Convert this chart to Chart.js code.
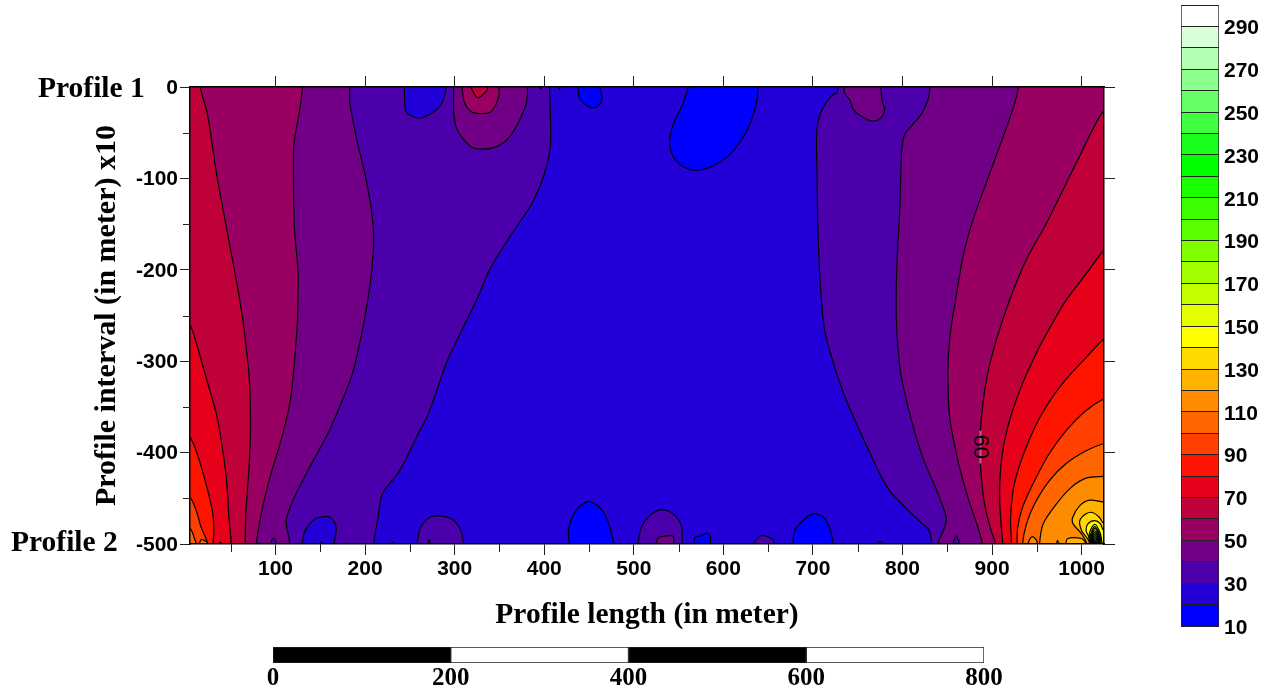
<!DOCTYPE html>
<html>
<head>
<meta charset="utf-8">
<title>Profile contour</title>
<script src="https://cdn.jsdelivr.net/npm/chart.js@4/dist/chart.umd.min.js"></script>
<style>
    html, body { margin: 0; padding: 0; background: #fff; }
    canvas { position: absolute; left: 0; top: 0; }
</style>
</head>
<body>
<canvas id="contourChart" width="1274" height="694"></canvas>
<canvas id="colorBar" width="1274" height="694"></canvas>
<canvas id="scaleBar" width="1274" height="694"></canvas>
<script>
// axis ticks
const xTicks = [100, 200, 300, 400, 500, 600, 700, 800, 900, 1000];
const xMinorTicks = [50, 150, 250, 350, 450, 550, 650, 750, 850, 950];
const yTicks = [0, -100, -200, -300, -400, -500];
const yMinorTicks = [-50, -150, -250, -350, -450];
const barTicks = [10, 30, 50, 70, 90, 110, 130, 150, 170, 190, 210, 230, 250, 270, 290];
const scaleTicks = [0, 200, 400, 600, 800];
const scaleValues = [[0, 200], [200, 400], [400, 600], [600, 800]];
const scaleColors = ['#000000', '#ffffff', '#000000', '#ffffff'];

// colour bar bands, bottom one starts at 10
const bandStarts = [10, 20, 30, 40, 50, 60, 70, 80, 90, 100, 110, 120, 130, 140, 150, 160, 170, 180, 190, 200, 210, 220, 230, 240, 250, 260, 270, 280, 290];
const bandEdges = [10, 20, 30, 40, 50, 60, 70, 80, 90, 100, 110, 120, 130, 140, 150, 160, 170, 180, 190, 200, 210, 220, 230, 240, 250, 260, 270, 280, 290, 300];
const bandColors = ['#0000ff', '#2400d8', '#4b00ab', '#720087', '#990061', '#bf0039', '#e6001a', '#ff1400', '#ff4000', '#ff6600', '#ff8c00', '#ffb300', '#ffd900', '#ffff00', '#e6ff00', '#c4ff00', '#a3ff00', '#80ff00', '#5cff00', '#3bff00', '#19ff00', '#00ff00', '#1aff1a', '#40ff40', '#66ff66', '#8cff8c', '#b3ffb3', '#d9ffd9', '#ffffff'];

// contour lines, [length, interval]
const baseArea = [[-20, 20], [1050, 20], [1050, -520], [-20, -520], [-20, 20]];

const low10Top = [[437.5, 0], [439.5, -12], [450.5, -22], [458, -22], [464.5, -14], [462, 0]];
const low10Big = [[561, 0], [555, -18], [544, -41], [540, -60], [544, -76], [555, -87], [569, -91], [587, -87], [607, -74], [624, -52], [633, -32], [637.5, -14], [639, 0]];
const low10A = [[428.3, -500], [427, -485.5], [434, -465], [448.7, -453.6], [462, -460], [471, -474.5], [477.8, -500]];
const low10B = [[567.5, -500], [568, -492.7], [575.4, -491], [581, -488], [585.4, -491], [585.4, -500]];
const low10C = [[677.6, -500], [679.5, -485.5], [688.5, -474.5], [699.7, -467], [711, -470], [718.7, -482.5], [723, -500]];

const c30Left = [[-20, 20], [406, 20], [406, 0], [407, -61], [400.5, -94], [387, -126], [361.5, -164], [339, -200], [324.5, -233], [308, -266], [292, -299], [280, -332], [270, -359], [261, -376], [238.5, -420], [219.5, -445], [214, -474], [209.5, -500], [209.5, -520], [-20, -520], [-20, 20]];
const c30Right = [[728, 20], [728, 0], [727, -6], [720.5, -10], [711, -23], [705.5, -39], [704, -58], [704.5, -91], [705.5, -153], [707.5, -204], [709.5, -233], [713, -266], [722, -299], [733, -332], [747, -365], [761, -395], [774.5, -423], [785.5, -441.5], [804, -461], [822.5, -478], [830, -485.5], [832.5, -500], [832.5, -520], [1050, -520], [1050, 20], [728, 20]];
const c30BumpA = [[257.8, -500], [261.5, -483], [270, -472], [281, -469], [298, -473.5], [307, -485.5], [310, -500]];
const c30BumpB = [[504.6, -500], [508.4, -482], [517.7, -469], [530.6, -462.4], [543.6, -467], [553, -480], [554, -500]];
const c30BumpC = [[633, -500], [642, -491], [655, -494.7], [657, -500]];
const c30DotsA = [[395, 0], [396, -3], [397, 0]];
const c30DotsB = [[416, 0], [417, -3], [418, 0]];
const c30DotsC = [[230, -500], [231, -498], [232, -500]];
const c30DotsD = [[150, -500], [151, -498], [152, -500]];
const c30DotsE = [[773, -500], [775, -497], [778, -500]];
const c30DotsF = [[95, -500], [96, -495], [98, -494], [100, -496], [100.7, -500]];
const c30DotsG = [[856, -500], [860, -491], [864, -500]];

const hole20Top = [[244, 0], [244, -10.6], [246.5, -28], [261, -34], [275.5, -28], [286, -17], [291, 0]];
const hole20Bottom = [[129.8, -500], [132.4, -487], [143.6, -473], [158, -470], [166, -476], [167.8, -485], [165, -500]];
const hole20Dot = [[270, -500], [271.5, -495], [273, -500]];

const c40Left = [[-20, 20], [183, 20], [183, 0], [183, -17], [190, -54.5], [199.5, -94], [207, -134.5], [209.5, -167], [207, -204], [203, -233], [197, -266], [186, -313], [171.5, -350], [156.5, -383], [138, -416], [121, -449], [112, -474], [116, -500], [116, -520], [-20, -520], [-20, 20]];
const c40Right = [[830.5, 20], [830.5, 0], [828.5, -14], [821, -30], [811.5, -41], [802, -53], [799, -72], [797, -134], [794, -189], [793, -233], [793.8, -269], [798, -313], [808, -357], [822.5, -405], [838, -441], [849, -471], [847, -482], [839.5, -500], [839.5, -520], [1050, -520], [1050, 20], [830.5, 20]];
const c40Top = [[299, 0], [299, -28], [303, -47], [319, -66], [331, -68], [344.5, -66], [358, -58], [370, -41], [380, -17], [381.5, 0]];
const c40TopRight = [[734.6, 0], [735.4, -6.5], [741, -14], [745.5, -25], [754, -32], [765, -37], [774.5, -35], [780, -25], [777.5, -16], [775.6, 0]];
const c40Bump = [[525, -500], [527, -493.5], [532.5, -491.7], [543.6, -491.3], [544.8, -500]];

const c50Left = [[-20, 20], [130, 20], [130, 0], [127, -25], [121, -58], [120, -80], [121, -153], [125, -200], [125, -233], [124.5, -255], [121, -302], [116, -346], [106, -387], [95, -423], [85.5, -460], [78.5, -500], [78.5, -520], [-20, -520], [-20, 20]];
const c50Right = [[929.5, 20], [929.5, 0], [923, -25], [908.5, -65], [893.5, -105], [878.5, -146], [867.5, -186], [859.3, -233], [853.5, -269], [850.8, -306], [852.7, -361], [862, -409], [873, -449], [884.3, -482], [889, -500], [889, -520], [1050, -520], [1050, 20], [929.5, 20]];
const c50Top = [[308, 0], [311, -17], [318.5, -27], [329.5, -29], [339, -28], [346, -19.5], [349.5, -8.5], [349.5, 0]];

const c60Left = [[-20, 20], [16, 20], [16, 0], [24, -30], [34, -94], [45, -153], [54, -200], [60, -233], [65, -266], [71, -324], [72, -379], [70, -423], [67, -464], [66, -500], [66, -520], [-20, -520], [-20, 20]];
const c60Right = [[1050, -6], [1025, -25], [995.6, -80], [960.7, -149], [938.3, -189], [919.6, -233], [904.7, -277], [893.6, -321], [887, -376], [887, -412], [891.6, -456], [899, -485.5], [904, -500], [904, -520], [1050, -520], [1050, -6]];
const c60Top = [[318, 0], [322.5, -8.5], [326, -12], [331.5, -8.5], [336.5, -3], [336.5, 0]];
// stretch of the 60 line that is broken by its label
const c60Gap = [[887, -376], [887, -412]];

const c70Left = [[-20, -240], [4.5, -261], [11.4, -280], [22.5, -318], [33.8, -357], [39.4, -387], [45, -427], [48, -471], [50.5, -500], [50.5, -520], [-20, -520], [-20, -240]];
const c70Right = [[1050, -150], [1025, -178], [1005.3, -204], [982.9, -233], [967.7, -258], [949.5, -291], [930.9, -332], [917.4, -372.5], [910.4, -409], [908.5, -449], [910.4, -482], [912, -500], [912, -520], [1050, -520], [1050, -150]];

const c80Left = [[-20, -360], [4.5, -383], [15, -409], [24.4, -442], [30, -467], [31, -489], [30, -500], [30, -520], [-20, -520], [-20, -360]];
const c80Right = [[1050, -255], [1025, -275], [1005, -296], [979, -324], [956, -357], [938, -394.5], [925, -434], [920.7, -471], [921.7, -500], [921.7, -520], [1050, -520], [1050, -255]];
const c80Dot = [[37, -500], [38, -498], [40, -500]];

const c90Left = [[-20, -430], [4.5, -449], [11.4, -463.5], [17, -482], [24.4, -500], [24.4, -520], [-20, -520], [-20, -430]];
const c90Right = [[1050, -330], [1025, -341], [1005, -354], [982.8, -376], [964, -401], [947.6, -430.6], [934, -460], [928.6, -482], [928, -500], [928, -520], [1050, -520], [1050, -330]];

const c100Left = [[-20, -470], [4.5, -483], [9.5, -494], [11.4, -500], [11.4, -520], [-20, -520], [-20, -470]];
const c100Right = [[1050, -385], [1025, -390], [1005, -398], [982.8, -412], [964, -430.6], [947.6, -456], [938.5, -478], [934, -500], [934, -520], [1050, -520], [1050, -385]];
const c100Dot = [[15, -500], [17, -495], [22, -497], [25, -500]];

const c110Right = [[1050, -425], [1025, -426], [1005, -428], [988.5, -438], [972, -456], [957, -478], [953, -500], [953, -520], [1050, -520], [1050, -425]];
const c110Dot = [[940, -500], [942, -495], [945, -492], [949, -495], [951, -500]];

const c120Right = [[1050, -455], [1025, -454], [1009, -452], [998, -458], [990, -471], [990.5, -478], [1000, -489], [1006, -500], [1006, -520], [1050, -520], [1050, -455]];
const c120Ledge = [[982, -500], [984.5, -494], [1000, -494], [1004, -498], [1005, -500]];
const c120Dot = [[972, -500], [973, -496], [975, -500]];

const c130Right = [[1050, -480], [1025, -478], [1020, -471], [1012, -465.5], [1005, -467], [998, -474.5], [1000, -485.5], [1007, -494.7], [1009, -500], [1009, -520], [1050, -520], [1050, -480]];
const c140Right = [[1050, -487], [1025, -485.5], [1021, -478], [1014.6, -474.5], [1007, -478], [1005, -485.5], [1007.5, -491], [1010, -500], [1010, -520], [1050, -520], [1050, -487]];
const c150Peak = [[1009, -500], [1008.8, -488], [1014.6, -478.4], [1020.7, -488], [1023, -500]];
const c160Peak = [[1010, -500], [1010, -490], [1014.6, -481], [1020.2, -490], [1022, -500]];
const c170Peak = [[1010.7, -500], [1010.8, -491], [1014.6, -483], [1019.6, -491], [1021, -500]];
const c180Peak = [[1011.2, -500], [1011.4, -492], [1014.6, -485.5], [1019, -492], [1020.2, -500]];
const c190Peak = [[1011.8, -500], [1012, -493], [1014.6, -487.6], [1018.5, -493], [1019.6, -500]];
const c200Peak = [[1012.3, -500], [1012.5, -494], [1014.6, -489.8], [1017.9, -494], [1019, -500]];
const c210Peak = [[1012.9, -500], [1013, -495], [1014.6, -492], [1017.4, -495], [1018.5, -500]];
const c220Peak = [[1013.5, -500], [1013.6, -496], [1014.6, -494], [1016.8, -496], [1017.9, -500]];
const c230Peak = [[1014, -500], [1014.2, -497.5], [1014.8, -496], [1016.2, -497.5], [1017.4, -500]];
const c240Peak = [[1014.4, -500], [1014.5, -498.5], [1015, -497.5], [1015.7, -498.5], [1016.8, -500]];

// painted in this order, each one over the one before
const contours = [
    [20, baseArea],
    [10, low10Top], [10, low10Big], [10, low10A], [10, low10B], [10, low10C],
    [30, c30Left], [30, c30Right], [30, c30BumpA], [30, c30BumpB], [30, c30BumpC],
    [30, c30DotsA], [30, c30DotsB], [30, c30DotsC], [30, c30DotsE],
    [20, hole20Top], [20, hole20Bottom], [20, hole20Dot],
    [30, c30DotsD],
    [40, c40Left], [40, c40Right], [40, c40Top], [40, c40TopRight], [40, c40Bump],
    [30, c30DotsF], [30, c30DotsG],
    [50, c50Left], [50, c50Right], [50, c50Top],
    [60, c60Left], [60, c60Right], [60, c60Top],
    [70, c70Left], [70, c70Right],
    [80, c80Left], [80, c80Right], [80, c80Dot],
    [90, c90Left], [90, c90Right],
    [100, c100Left], [100, c100Right], [100, c100Dot],
    [110, c110Right], [110, c110Dot],
    [120, c120Right], [120, c120Ledge], [120, c120Dot],
    [130, c130Right], [140, c140Right],
    [150, c150Peak], [160, c160Peak], [170, c170Peak], [180, c180Peak], [190, c190Peak],
    [200, c200Peak], [210, c210Peak], [220, c220Peak], [230, c230Peak], [240, c240Peak]
];

const SANS = '"Liberation Sans", Arial, sans-serif';
const SERIF = '"Liberation Serif", "Times New Roman", serif';
const tickFont = { family: SANS, weight: 'bold', size: 21 };

function colorOf(level) {
    return bandColors[bandStarts.indexOf(level)];
}

const datasets = contours.map(([level, pts], i) => ({
    data: pts.map(([x, y]) => ({ x, y })),
    showLine: true,
    fill: 'shape',
    backgroundColor: colorOf(level),
    borderColor: '#000',
    borderWidth: 1.2,
    pointRadius: 0,
    tension: 0.3,
    clip: 0,
    order: contours.length - i
}));

datasets.push({
    data: c60Gap.map(([x, y]) => ({ x, y })),
    showLine: true,
    fill: false,
    borderColor: '#c8608c',
    borderWidth: 2,
    pointRadius: 0,
    tension: 0,
    order: 0
});

// minor ticks and the free labels
const extrasPlugin = {
    id: 'extras',
    afterDraw(chart) {
        const { ctx, chartArea } = chart;
        const x = chart.scales.x;
        const y = chart.scales.y;
        ctx.save();
        ctx.strokeStyle = '#222';
        ctx.lineWidth = 1;
        ctx.beginPath();
        for (const v of xMinorTicks) {
            const px = Math.round(x.getPixelForValue(v)) + 0.5;
            ctx.moveTo(px, chartArea.bottom);
            ctx.lineTo(px, chartArea.bottom + 8);
        }
        for (const v of yMinorTicks) {
            const py = Math.round(y.getPixelForValue(v)) + 0.5;
            ctx.moveTo(chartArea.left, py);
            ctx.lineTo(chartArea.left - 7, py);
        }
        ctx.stroke();

        ctx.fillStyle = '#000';
        ctx.textBaseline = 'middle';
        ctx.font = `bold 29.5px ${SERIF}`;
        ctx.fillText('Profile 1', 38, 89);
        ctx.fillText('Profile 2', 11, 543);

        ctx.translate(x.getPixelForValue(887), y.getPixelForValue(-393.5));
        ctx.rotate(Math.PI / 2);
        ctx.font = `22px ${SANS}`;
        ctx.textAlign = 'center';
        ctx.fillText('60', 0, 0);
        ctx.restore();
    }
};

function setTicks(list) {
    return scale => {
        scale.ticks = list.map(value => ({ value }));
    };
}

const frameBorder = { display: true, color: '#000', width: 1.5, z: 2 };

const contourCtx = document.getElementById('contourChart').getContext('2d');
new Chart(contourCtx, {
    type: 'scatter',
    data: { datasets },
    plugins: [extrasPlugin],
    options: {
        responsive: false,
        animation: false,
        layout: { padding: 0 },
        plugins: { legend: { display: false }, tooltip: { enabled: false } },
        scales: {
            x: {
                type: 'linear',
                position: 'bottom',
                min: 4.5,
                max: 1025,
                afterBuildTicks: setTicks(xTicks),
                afterFit: s => { s.height = 150; },
                border: frameBorder,
                grid: { drawOnChartArea: false, tickLength: 11, color: '#222' },
                ticks: { autoSkip: false, maxRotation: 0, padding: 2, color: '#000', font: tickFont, callback: v => String(v) },
                title: { display: true, text: 'Profile length (in meter)', color: '#000', font: { family: SERIF, weight: 'bold', size: 29.5 }, padding: { top: 0, bottom: 61 } }
            },
            x2: {
                type: 'linear',
                position: 'top',
                min: 4.5,
                max: 1025,
                afterBuildTicks: setTicks(xTicks),
                afterFit: s => { s.height = 87; },
                border: frameBorder,
                grid: { drawOnChartArea: false, tickLength: 11, color: '#222' },
                ticks: { display: false }
            },
            y: {
                type: 'linear',
                position: 'left',
                min: -500,
                max: 0,
                afterBuildTicks: setTicks(yTicks),
                afterFit: s => { s.width = 190; },
                border: frameBorder,
                grid: { drawOnChartArea: false, tickLength: 10, color: '#222' },
                ticks: { autoSkip: false, padding: 2, labelOffset: 1, color: '#000', font: tickFont, callback: v => String(v) },
                title: { display: true, text: 'Profile interval (in meter) x10', color: '#000', font: { family: SERIF, weight: 'bold', size: 30 }, padding: { top: 89, bottom: 0 } }
            },
            y2: {
                type: 'linear',
                position: 'right',
                min: -500,
                max: 0,
                afterBuildTicks: setTicks(yTicks),
                afterFit: s => { s.width = 170; },
                border: frameBorder,
                grid: { drawOnChartArea: false, tickLength: 11, color: '#222' },
                ticks: { display: false }
            }
        }
    }
});

const barCtx = document.getElementById('colorBar').getContext('2d');
new Chart(barCtx, {
    type: 'bar',
    data: {
        labels: ['band'],
        datasets: bandStarts.map((start, i) => ({
            data: [[start, start + 10]],
            backgroundColor: bandColors[i],
            borderColor: '#222',
            borderWidth: { left: 1, right: 1, top: 0, bottom: 0 },
            borderSkipped: false,
            barPercentage: 1,
            categoryPercentage: 1
        }))
    },
    options: {
        responsive: false,
        animation: false,
        layout: { padding: { left: 1181, top: 5, bottom: 68 } },
        plugins: { legend: { display: false }, tooltip: { enabled: false } },
        scales: {
            x: { stacked: true, display: false },
            y: {
                position: 'right',
                min: 10,
                max: 300,
                afterBuildTicks: setTicks(bandEdges),
                afterFit: s => {
                    s.width = 55;
                    s.paddingTop = 0;
                    s.paddingBottom = 0;
                },
                border: { display: false },
                // the band separators are the grid lines
                grid: { drawTicks: false, color: '#222', lineWidth: 1, z: 1 },
                ticks: {
                    autoSkip: false,
                    padding: 5,
                    labelOffset: 2,
                    color: '#000',
                    font: tickFont,
                    callback: v => (barTicks.includes(v) ? String(v) : '')
                }
            }
        }
    }
});

const scaleCtx = document.getElementById('scaleBar').getContext('2d');
new Chart(scaleCtx, {
    type: 'bar',
    data: {
        labels: ['scale'],
        datasets: scaleValues.map((range, i) => ({
            data: [range],
            backgroundColor: scaleColors[i],
            borderColor: '#222',
            borderWidth: 1,
            borderSkipped: false,
            barPercentage: 1,
            categoryPercentage: 1
        }))
    },
    options: {
        indexAxis: 'y',
        responsive: false,
        animation: false,
        layout: { padding: { left: 273, right: 290, top: 647 } },
        plugins: { legend: { display: false }, tooltip: { enabled: false } },
        scales: {
            y: { stacked: true, display: false },
            x: {
                position: 'bottom',
                min: 0,
                max: 800,
                afterBuildTicks: setTicks(scaleTicks),
                afterFit: s => { s.height = 31; },
                border: { display: false },
                grid: { display: false, drawTicks: false },
                ticks: { autoSkip: false, maxRotation: 0, padding: 1, color: '#000', font: { family: SERIF, weight: 'bold', size: 25 }, callback: v => String(v) }
            }
        }
    }
});
</script>
</body>
</html>
